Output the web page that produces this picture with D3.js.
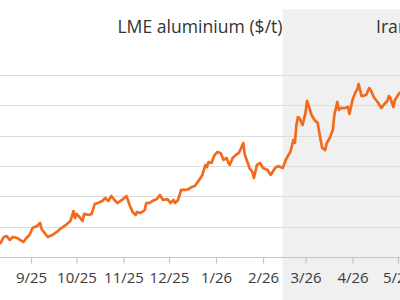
<!DOCTYPE html>
<html><head><meta charset="utf-8">
<script src="https://cdn.jsdelivr.net/npm/d3@7"></script>
<style>html,body{margin:0;padding:0;background:#fff;overflow:hidden}svg{display:block}</style>
</head><body>
<svg id="c" width="400" height="300"></svg>
<script>
const title = "LME aluminium ($/t)";
const shadeLabel = "Iran war";
const shadeStart = "2026-02-14";
const shadeEnd = "2026-06-01";
const tickDates = ["2025-09-01","2025-10-01","2025-11-01","2025-12-01","2026-01-01","2026-02-01","2026-03-01","2026-04-01","2026-05-01"];
const tickLabels = ["9/25","10/25","11/25","12/25","1/26","2/26","3/26","4/26","5/26"];
const yTicks = [2500,2700,2900,3100,3300,3500,3700];
const dates = [
"2025-08-12","2025-08-14","2025-08-16","2025-08-18","2025-08-20","2025-08-23","2025-08-25","2025-08-27","2025-08-29","2025-08-31",
"2025-09-02","2025-09-05","2025-09-07","2025-09-08","2025-09-10","2025-09-12","2025-09-15","2025-09-18","2025-09-21","2025-09-24",
"2025-09-27","2025-09-29","2025-09-30","2025-10-01","2025-10-03","2025-10-05","2025-10-06","2025-10-09","2025-10-11","2025-10-13",
"2025-10-15","2025-10-18","2025-10-20","2025-10-22","2025-10-24","2025-10-26","2025-10-28","2025-10-31","2025-11-03","2025-11-05",
"2025-11-07","2025-11-09","2025-11-10","2025-11-12","2025-11-14","2025-11-15","2025-11-16","2025-11-18","2025-11-20","2025-11-23",
"2025-11-25","2025-11-27","2025-11-30","2025-12-02","2025-12-04","2025-12-05","2025-12-07","2025-12-09","2025-12-12","2025-12-14",
"2025-12-16","2025-12-18","2025-12-20","2025-12-23","2025-12-25","2025-12-26","2025-12-27","2025-12-29","2025-12-31","2026-01-02",
"2026-01-04","2026-01-06","2026-01-08","2026-01-09","2026-01-10","2026-01-12","2026-01-14","2026-01-16","2026-01-17","2026-01-19",
"2026-01-20","2026-01-22","2026-01-23","2026-01-25","2026-01-26","2026-01-28","2026-01-30","2026-02-01","2026-02-04","2026-02-06",
"2026-02-09","2026-02-11","2026-02-14","2026-02-16","2026-02-17","2026-02-19","2026-02-21","2026-02-22","2026-02-23","2026-02-24",
"2026-02-25","2026-02-27","2026-03-01","2026-03-02","2026-03-04","2026-03-05","2026-03-07","2026-03-09","2026-03-11","2026-03-12",
"2026-03-14","2026-03-15","2026-03-17","2026-03-19","2026-03-20","2026-03-22","2026-03-23","2026-03-24","2026-03-27","2026-03-29",
"2026-03-30","2026-04-01","2026-04-03","2026-04-04","2026-04-05","2026-04-07","2026-04-10","2026-04-12","2026-04-13","2026-04-15",
"2026-04-16","2026-04-18","2026-04-20","2026-04-22","2026-04-24","2026-04-25","2026-04-26","2026-04-28","2026-04-29","2026-05-01",
"2026-05-02"];
const prices = [
2592,2632,2638,2612,2632,2625,2612,2599,2625,2645,
2691,2704,2724,2685,2658,2632,2645,2665,2691,2711,
2737,2803,2757,2784,2764,2737,2784,2777,2784,2849,
2856,2869,2889,2869,2902,2876,2856,2876,2902,2843,
2797,2777,2797,2790,2803,2810,2856,2856,2869,2882,
2909,2876,2882,2856,2876,2856,2876,2942,2942,2948,
2962,2968,2995,3041,3107,3093,3126,3120,3172,3192,
3186,3140,3153,3126,3107,3153,3172,3186,3205,3252,
3172,3120,3087,3060,3021,3107,3120,3087,3074,3041,
3087,3100,3087,3140,3159,3192,3271,3252,3370,3423,
3416,3370,3449,3529,3469,3436,3403,3383,3271,3219,
3205,3252,3285,3337,3436,3522,3469,3482,3482,3489,
3443,3535,3588,3601,3641,3561,3568,3614,3601,3555,
3542,3515,3482,3509,3529,3561,3548,3489,3535,3568,
3581];

const parse = d3.timeParse("%Y-%m-%d");
const data = dates.map((d,i)=>({date:parse(d), v:prices[i]}));
const svg = d3.select("#c");
const W = 400, H = 300;
const x = d3.scaleTime().domain([parse("2025-09-01"), parse("2026-05-01")]).range([31, 398]);
const y = d3.scaleLinear().domain([2500, 3700]).range([257, 75]);

// shaded period
svg.append("rect")
  .attr("x", x(parse(shadeStart))).attr("y", 9)
  .attr("width", x(parse(shadeEnd)) - x(parse(shadeStart)))
  .attr("height", H - 9)
  .attr("fill", "#f0f0f0");

// gridlines
svg.append("g").selectAll("line").data(yTicks.slice(1)).join("line")
  .attr("x1", 0).attr("x2", W)
  .attr("y1", d=>Math.round(y(d))+0.5).attr("y2", d=>Math.round(y(d))+0.5)
  .attr("stroke", "#dcdcdc").attr("stroke-width", 1.2);

// x axis
const xAxis = d3.axisBottom(x)
  .tickValues(tickDates.map(parse))
  .tickFormat((d,i)=>tickLabels[i])
  .tickSize(6).tickPadding(9).tickSizeOuter(0);
const gx = svg.append("g").attr("transform", `translate(0,${Math.round(y(2500))+0.5})`).call(xAxis);
gx.select(".domain").attr("d", `M0,0H${W}`).attr("stroke", "#c4c4c4").attr("stroke-width", 1.2);
gx.selectAll(".tick line").attr("stroke", "#c4c4c4").attr("stroke-width", 1.2);
gx.selectAll(".tick text").attr("font-family", "'Open Sans', sans-serif").attr("font-size", 15).attr("fill", "#3a3a3a");

// line
svg.append("path").datum(data)
  .attr("fill", "none").attr("stroke", "#f36a1c").attr("stroke-width", 2.7)
  .attr("stroke-linejoin", "round").attr("stroke-linecap", "round")
  .attr("d", d3.line().x(d=>x(d.date)).y(d=>y(d.v)));

// titles
svg.append("text").attr("x", 200).attr("y", 33).attr("text-anchor", "middle")
  .attr("font-family", "'Open Sans', sans-serif").attr("font-size", 17.6).attr("fill", "#333")
  .text(title);
svg.append("text").attr("x", 376).attr("y", 33)
  .attr("font-family", "'Open Sans', sans-serif").attr("font-size", 17.6).attr("fill", "#333")
  .text(shadeLabel);
</script>
</body></html>
